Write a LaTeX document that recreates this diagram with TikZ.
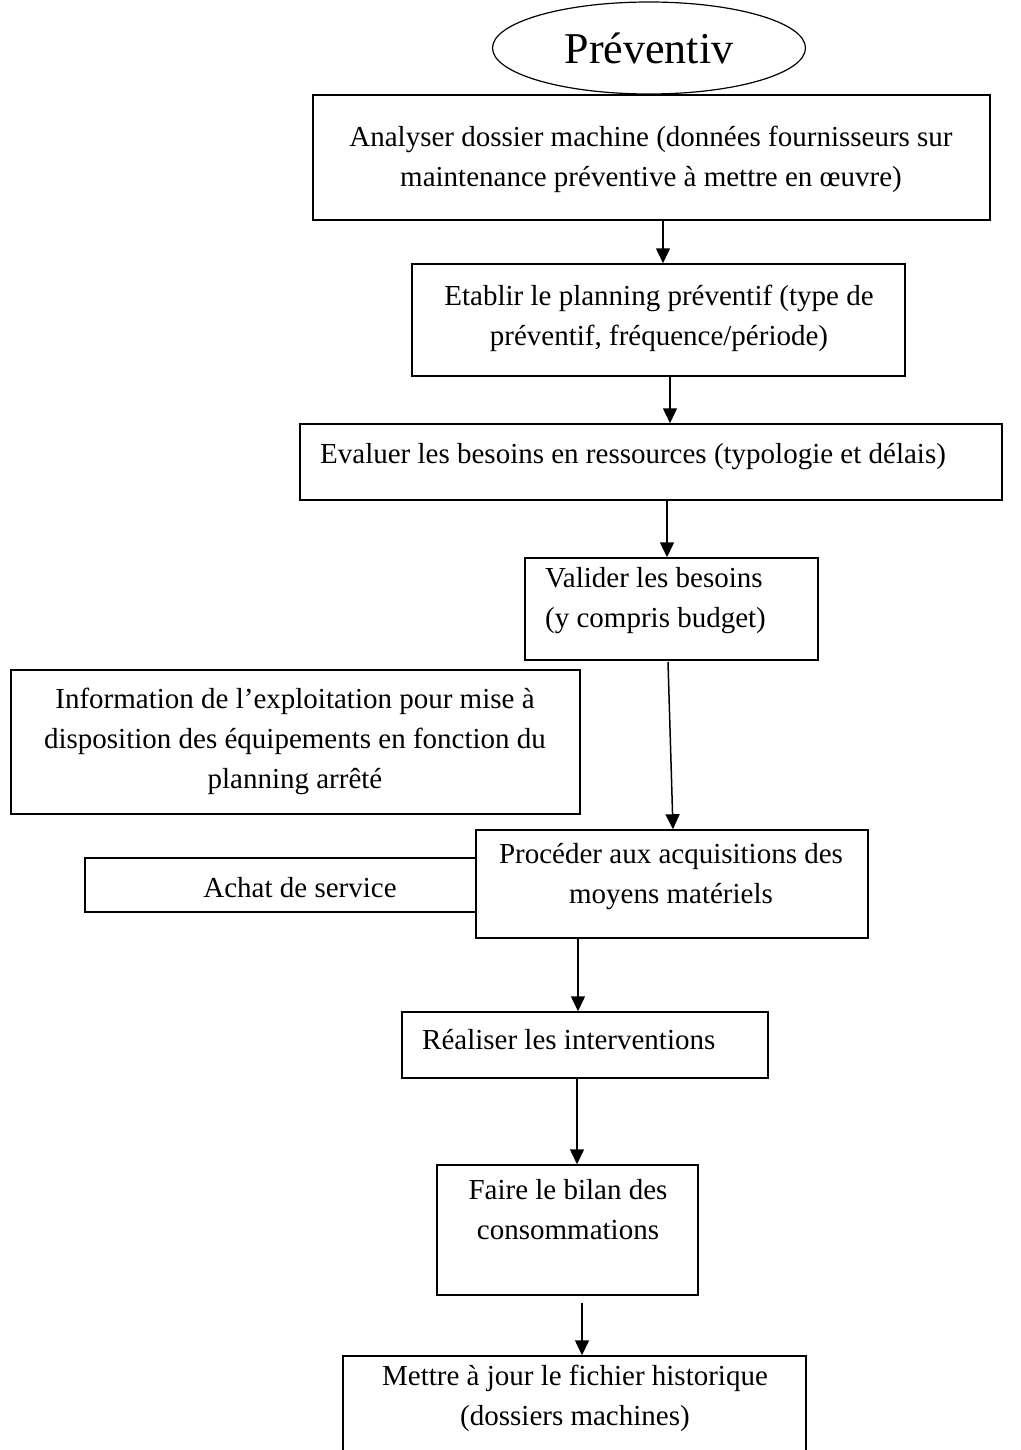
\documentclass[tikz,border=0pt]{standalone}
\usepackage{fontspec}
\setmainfont{Liberation Serif}
\usetikzlibrary{shapes.geometric,arrows.meta}
\tikzset{
  x=1pt, y=-1pt,
  box/.style={draw, line width=1.5pt, rectangle, inner sep=0pt},
  txt/.style={inner sep=0pt, font=\fontsize{29}{40}\selectfont},
  arr/.style={line width=1.5pt, -{Triangle[length=15pt,width=14pt]}},
}
\newcommand{\boxat}[5]{% name, x1, y1, x2, y2
  \node[box, minimum width={#4-#2}, minimum height={#5-#3}] (#1) at ({(#2+#4)/2},{(#3+#5)/2}) {};}
\begin{document}
\begin{tikzpicture}
\useasboundingbox (0,0) rectangle (1020,1450);

% start oval
\node[draw, line width=1.2pt, ellipse, minimum width=313pt, minimum height=92pt, inner sep=0pt,
      font=\fontsize{44}{50}\selectfont] (start) at (649,48) {Préventiv};

% process boxes
\boxat{b1}{313}{95}{990}{220}
\node[txt, align=center] (t1) at (651,159) {Analyser dossier machine (données fournisseurs sur\\maintenance préventive à mettre en œuvre)};

\boxat{b2}{412}{264}{905}{376}
\node[txt, align=center] (t2) at (659,318) {Etablir le planning préventif (type de\\préventif, fréquence/période)};

\boxat{b3}{300}{424}{1002}{500}
\node[txt, anchor=west] (t3) at (320,457) {Evaluer les besoins en ressources (typologie et délais)};

\boxat{b4}{525}{558}{818}{660}
\node[txt, align=left, anchor=west] (t4) at (545,601) {Valider les besoins\\(y compris budget)};

\boxat{b5}{11}{670}{580}{814}
\node[txt, align=center] (t5) at (295,741) {Information de l’exploitation pour mise à\\disposition des équipements en fonction du\\planning arrêté};

\boxat{b6}{476}{830}{868}{938}
\node[txt, align=center] (t6) at (671,877) {Procéder aux acquisitions des\\moyens matériels};

\boxat{b6a}{85}{858}{476}{912}
\node[txt] (t6a) at (300,888) {Achat de service};

\boxat{b7}{402}{1012}{768}{1078}
\node[txt, anchor=west] (t7) at (422,1040) {Réaliser les interventions};

\boxat{b8}{437}{1165}{698}{1295}
\node[txt, align=center] (t8) at (568,1210) {Faire le bilan des\\consommations};

\boxat{b9}{343}{1356}{806}{1470}
\node[txt, align=center] (t9) at (575,1398) {Mettre à jour le fichier historique\\(dossiers machines)};

% connector columns
\coordinate (c1) at (663,0);
\coordinate (c2) at (670,0);
\coordinate (c3) at (667,0);
\coordinate (c4s) at (668,662);
\coordinate (c4e) at (673,0);
\coordinate (c6) at (578,0);
\coordinate (c7) at (577,0);
\coordinate (c8) at (582,0);

\draw[arr] (b1.south -| c1) -- (b2.north -| c1);
\draw[arr] (b2.south -| c2) -- (b3.north -| c2);
\draw[arr] (b3.south -| c3) -- (b4.north -| c3);
\draw[arr] (c4s) -- (b6.north -| c4e);
\draw[arr] (b6.south -| c6) -- (b7.north -| c6);
\draw[arr] (b7.south -| c7) -- (b8.north -| c7);
\draw[arr] ([yshift=-7pt]b8.south -| c8) -- (b9.north -| c8);
\end{tikzpicture}
\end{document}
